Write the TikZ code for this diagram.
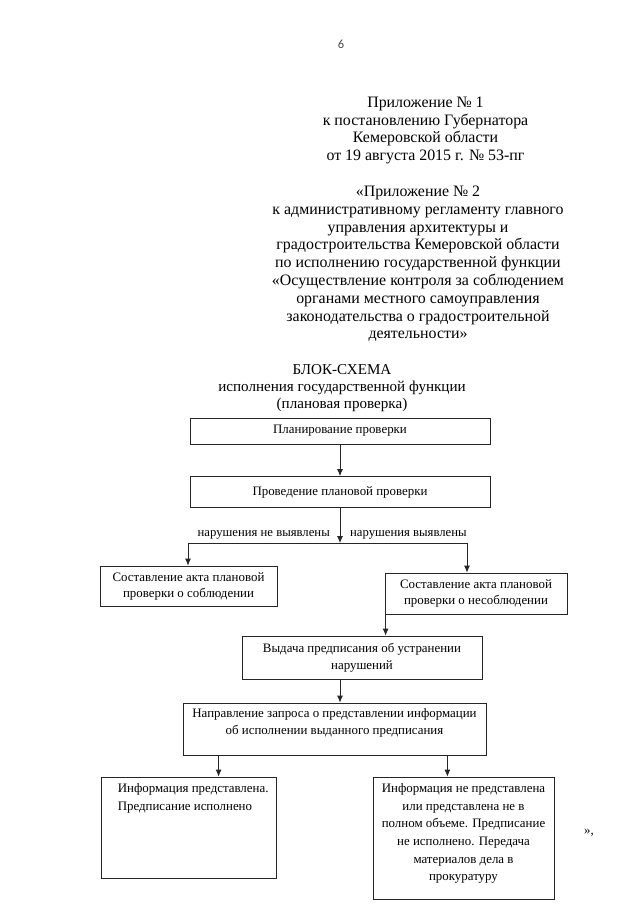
\documentclass[tikz,border=0pt]{standalone}
\usepackage{fontspec}
\setmainfont{Liberation Serif}
\newfontfamily\pgnumfont{Carlito}
\usetikzlibrary{arrows.meta}
\begin{document}
\begin{tikzpicture}[x=1pt,y=-1pt,
  box/.style={draw=black!85, line width=0.8pt, inner sep=0pt, align=center,
    font=\fontsize{12.9}{17}\selectfont},
  boxtext/.style={inner sep=0pt, font=\fontsize{12.9}{17.6}\selectfont},
  hdr/.style={inner sep=0pt, align=center, font=\fontsize{15.9}{17.8}\selectfont},
  lbl/.style={inner sep=0pt, font=\fontsize{12.7}{14}\selectfont},
  arr/.style={draw=black!85, line width=0.8pt, -{Latex[length=7pt,width=6pt]}},
  ln/.style={draw=black!85, line width=0.8pt}]
\path[use as bounding box] (0,0) rectangle (640,905);

% page number
\node[inner sep=0pt, font=\pgnumfont\fontsize{12.5}{14}\selectfont, text=black!70] (pg) at (341,44) {6};

% header
\node[hdr] (h1) at (425.5,130.5) {Приложение № 1\\к постановлению Губернатора\\Кемеровской области\\от 19 августа 2015 г. № 53-пг};
\node[hdr] (h2) at (418,264) {«Приложение № 2\\к административному регламенту главного\\управления архитектуры и\\градостроительства Кемеровской области\\по исполнению государственной функции\\«Осуществление контроля за соблюдением\\органами местного самоуправления\\законодательства о градостроительной\\деятельности»};
\node[hdr, font=\fontsize{15.1}{16.7}\selectfont] (h3) at (342,388) {БЛОК-СХЕМА\\исполнения государственной функции\\(плановая проверка)};

% boxes
\node[box, minimum width=300, minimum height=26] (b1) at (340,431) {Планирование проверки};
\node[box, minimum width=300, minimum height=31] (b2) at (340,492) {Проведение плановой проверки};
\node[box, minimum width=177, minimum height=40, font=\fontsize{12.9}{16}\selectfont] (b3) at (188.5,586) {Составление акта плановой\\проверки о соблюдении};
\node[box, minimum width=182, minimum height=41, font=\fontsize{12.9}{16}\selectfont] (b4) at (476,593.5) {Составление акта плановой\\проверки о несоблюдении};
\node[box, minimum width=240, minimum height=43] (b5) at (362,657.5) {Выдача предписания об устранении\\нарушений};
\node[box, minimum width=303, minimum height=52] (b6) at (334.5,729) {};
\node[boxtext, align=center, anchor=north] (t6) at ([yshift=-5.5pt]b6.north) {Направление запроса о представлении информации\\об исполнении выданного предписания};
\node[box, minimum width=175, minimum height=101] (b7) at (188.5,827.5) {};
\node[boxtext, align=left, anchor=north west] (t7) at ([xshift=17pt,yshift=-7pt]b7.north west) {Информация представлена.\\Предписание исполнено};
\node[box, minimum width=181, minimum height=122] (b8) at (463.5,838) {};
\node[boxtext, align=center, anchor=north] (t8) at ([yshift=-7pt]b8.north) {Информация не представлена\\или представлена не в\\полном объеме. Предписание\\не исполнено. Передача\\материалов дела в\\прокуратуру};

\node[inner sep=0pt, font=\fontsize{12.9}{15}\selectfont] (q) at (589,833) {»,};

% branch labels
\node[lbl, anchor=east] (l1) at (330,535) {нарушения не выявлены};
\node[lbl, anchor=west] (l2) at (350,535) {нарушения выявлены};

% connectors
\coordinate (s) at (340,543);
\coordinate (sl) at (188,543);
\coordinate (sr) at (467,543);
\draw[arr] (b1.south) -- (b2.north);
\draw[arr] (b2.south) -- (s);
\draw[ln] (sl) -- (sr);
\draw[arr] (sl) -- (sl |- b3.north);
\draw[arr] (sr) -- (sr |- b4.north);
\draw[arr] ([xshift=1pt]b4.south west) -- ([xshift=1pt]b4.south west |- b5.north);
\draw[arr] (b5.south -| s) -- (b6.north -| s);
\draw[arr] ([xshift=36pt]b6.south west) -- ([xshift=36pt]b6.south west |- b7.north);
\draw[arr] ([xshift=-39pt]b6.south east) -- ([xshift=-39pt]b6.south east |- b8.north);
\end{tikzpicture}
\end{document}
